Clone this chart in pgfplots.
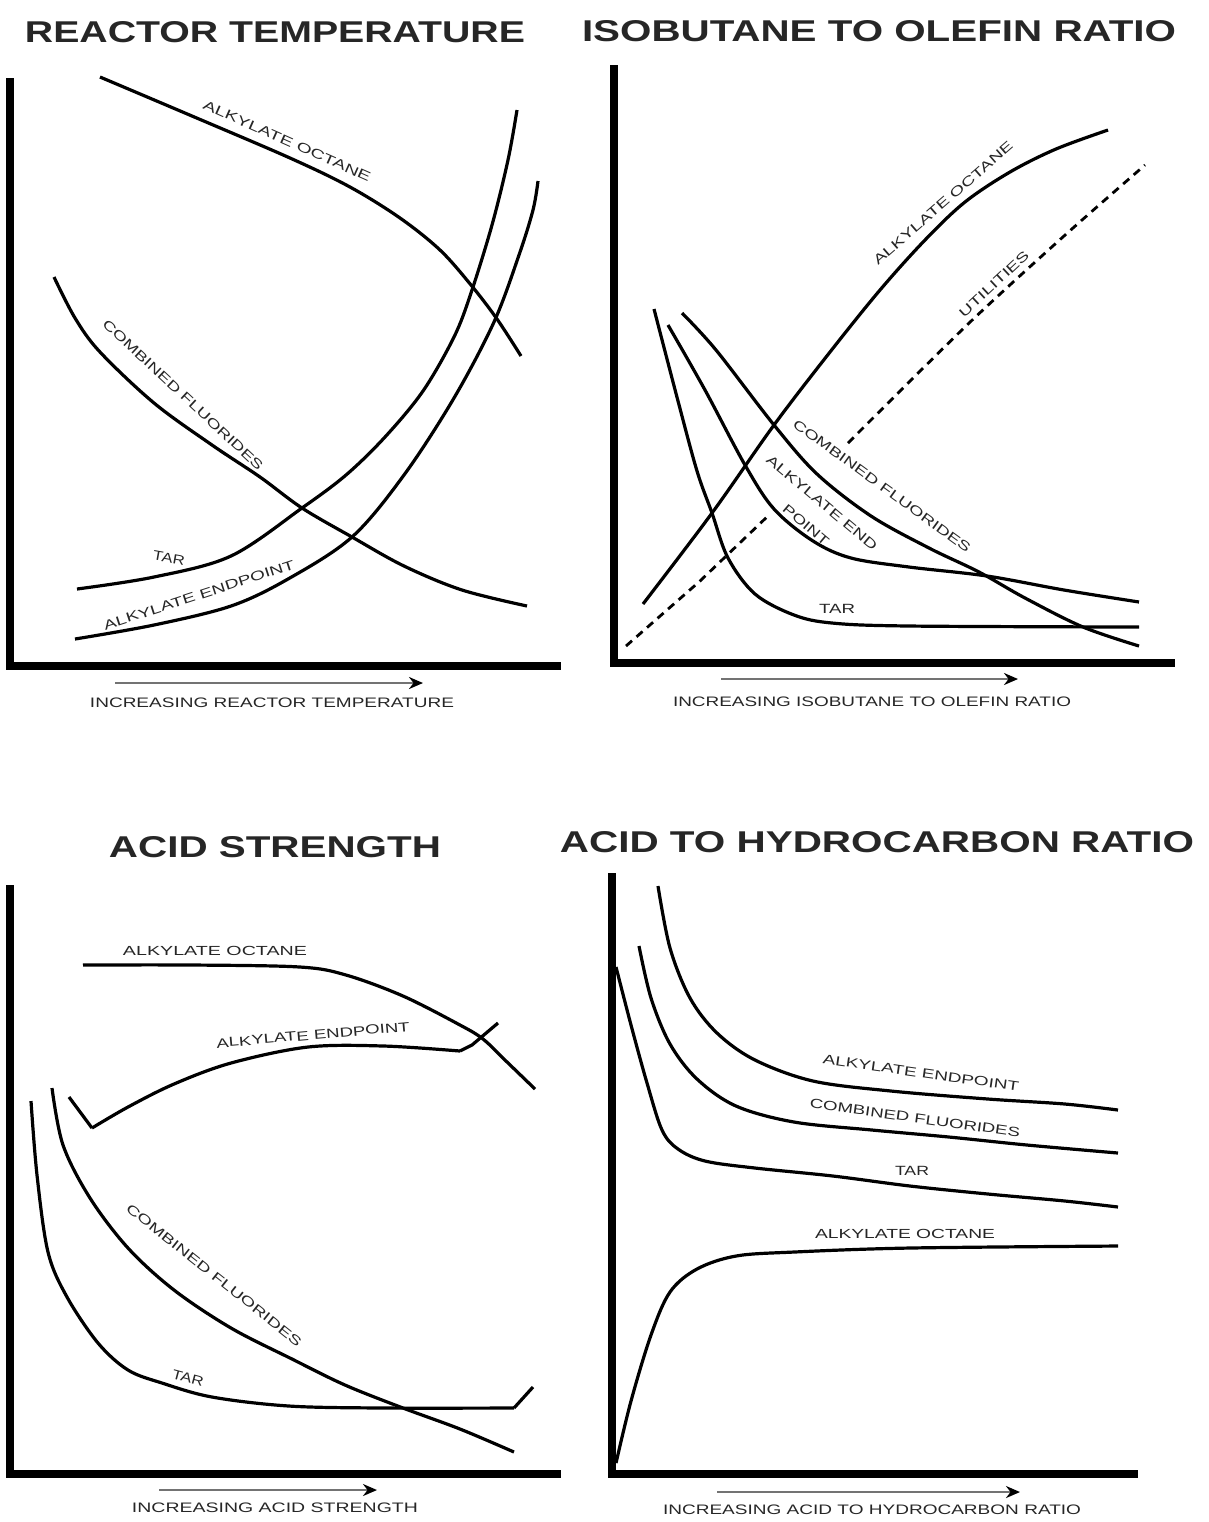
\documentclass[border=0pt]{standalone}
\usepackage{fontspec}
\setmainfont{Liberation Sans}
\usepackage{graphicx}
\usepackage{pgfplots}
\pgfplotsset{compat=1.18}
\usetikzlibrary{arrows.meta}

\newcommand{\lbl}[2]{\resizebox{#1}{4.6pt}{#2}}
\newcommand{\ttl}[2]{\resizebox{#1}{10.5pt}{\bfseries #2}}
\newcommand{\xlb}[2]{\resizebox{#1}{4.8pt}{#2}}

\tikzset{lab/.style={text=black!85, inner sep=0pt}}
\pgfplotsset{
  panel/.style={hide axis, clip=false, scale only axis,
    width=604.5pt, height=761pt,
    xmin=0, xmax=1209, ymin=0, ymax=1522, y dir=reverse,
    anchor=center, at={(302.25pt,-380.5pt)},
    every axis plot/.append style={line width=1.6pt, black, no markers}},
  frame/.style={line width=4.2pt, line join=miter, line cap=butt, sharp plot},
  curve/.style={smooth, tension=0.55},
  arr/.style={line width=1.3pt, black!55, -{Stealth[length=7pt,width=6pt,black]}, sharp plot},
}

\begin{document}
\begin{tikzpicture}
\useasboundingbox (0,0) rectangle (604.5pt,-761pt);

% ---------------- Panel 1: Reactor temperature ----------------
\begin{axis}[panel]
\addplot[frame] coordinates {(10,78) (10,666) (561,666)};
% alkylate octane
\addplot[curve] coordinates {(100,77) (192,116) (290,158) (350,187) (400,218) (440,250) (471,285) (497,319) (521,356)};
% tar
\addplot[curve] coordinates {(77,589) (154,577) (231,556) (302,508) (346,475) (385,437) (423,391) (454,337) (471,293) (492,225) (508,160) (517,110)};
% alkylate endpoint
\addplot[curve] coordinates {(75,639) (154,625) (231,606) (288,579) (352,537) (404,475) (454,398) (494,322) (519,255) (533,210) (538,181)};
% combined fluorides
\addplot[curve] coordinates {(54,277) (75,318) (100,352) (154,403) (212,445) (260,477) (302,508) (352,537) (404,566) (462,590) (527,606)};
\addplot[arr] coordinates {(115,683) (423,683)};
\node[lab] at (axis cs:275,32) {\ttl{250pt}{REACTOR TEMPERATURE}};
\node[lab] at (axis cs:272,703) {\xlb{182pt}{INCREASING REACTOR TEMPERATURE}};
\node[lab,rotate=-24] at (axis cs:287,141) {\lbl{91pt}{ALKYLATE OCTANE}};
\node[lab,rotate=-43] at (axis cs:183,395) {\lbl{107pt}{COMBINED FLUORIDES}};
\node[lab,rotate=-10] at (axis cs:169,558) {\lbl{16pt}{TAR}};
\node[lab,rotate=18] at (axis cs:199,595) {\lbl{100pt}{ALKYLATE ENDPOINT}};
\end{axis}

% ---------------- Panel 2: Isobutane to olefin ratio ----------------
\begin{axis}[panel]
\addplot[frame] coordinates {(614,65) (614,663) (1175,663)};
% alkylate octane
\addplot[curve] coordinates {(643,604) (712,513) (774,425) (830,352) (880,290) (925,240) (965,202) (1010,172) (1056,149) (1108,130)};
% utilities (dashed)
\addplot[dash pattern=on 4pt off 3pt, line width=1.4pt, sharp plot] coordinates {(626,646) (700,581) (770,514)};
\addplot[dash pattern=on 4pt off 3pt, line width=1.4pt, smooth] coordinates {(848,443) (967,325) (1064,236) (1145,165)};
% combined fluorides
\addplot[curve] coordinates {(682,313) (716,350) (774,425) (817,474) (871,516) (929,548) (979,572) (1025,598) (1083,627) (1139,646)};
% alkylate end point
\addplot[curve] coordinates {(668,325) (705,390) (745,465) (774,509) (813,541) (851,558) (909,567) (987,576) (1064,590) (1139,602)};
% tar
\addplot[curve] coordinates {(654,309) (678,401) (697,471) (712,513) (728,558) (755,594) (794,615) (832,623) (909,626) (1139,627)};
\addplot[arr] coordinates {(721,679) (1018,679)};
\node[lab] at (axis cs:879,31) {\ttl{297pt}{ISOBUTANE TO OLEFIN RATIO}};
\node[lab] at (axis cs:872,702) {\xlb{199pt}{INCREASING ISOBUTANE TO OLEFIN RATIO}};
\node[lab,rotate=41] at (axis cs:943,203) {\lbl{90pt}{ALKYLATE OCTANE}};
\node[lab,rotate=43] at (axis cs:994,284) {\lbl{45pt}{UTILITIES}};
\node[lab,rotate=-36] at (axis cs:882,486) {\lbl{108pt}{COMBINED FLUORIDES}};
\node[lab,rotate=-40] at (axis cs:822,503) {\lbl{70pt}{ALKYLATE END}};
\node[lab,rotate=-40] at (axis cs:806,525) {\lbl{28pt}{POINT}};
\node[lab] at (axis cs:837,609) {\lbl{18pt}{TAR}};
\end{axis}

% ---------------- Panel 3: Acid strength ----------------
\begin{axis}[panel]
\addplot[frame] coordinates {(10,885) (10,1474) (561,1474)};
% alkylate octane
\addplot[curve] coordinates {(83,965) (193,965) (300,967) (346,975) (403,996) (460,1025) (483,1039) (506,1061) (535,1089)};
% alkylate endpoint
\addplot[sharp plot] coordinates {(69,1097) (92,1128)};
\addplot[curve] coordinates {(92,1128) (128,1107) (174,1084) (231,1063) (308,1047) (384,1046) (460,1051)};
\addplot[sharp plot] coordinates {(460,1051) (472,1045) (498,1023)};
% combined fluorides
\addplot[curve] coordinates {(52,1088) (63,1145) (90,1198) (128,1248) (174,1290) (231,1328) (292,1359) (345,1385) (403,1408) (460,1429) (514,1452)};
% tar
\addplot[curve] coordinates {(31,1101) (37,1175) (48,1252) (67,1297) (98,1343) (128,1370) (162,1383) (212,1397) (289,1406) (384,1408) (514,1408)};
\addplot[sharp plot] coordinates {(514,1408) (533,1387)};
\addplot[arr] coordinates {(159,1490) (377,1490)};
\node[lab] at (axis cs:275,847) {\ttl{166pt}{ACID STRENGTH}};
\node[lab] at (axis cs:275,1508) {\xlb{143pt}{INCREASING ACID STRENGTH}};
\node[lab] at (axis cs:215,951) {\lbl{92pt}{ALKYLATE OCTANE}};
\node[lab,rotate=5] at (axis cs:313,1035) {\lbl{97pt}{ALKYLATE ENDPOINT}};
\node[lab,rotate=-38.5] at (axis cs:214,1275) {\lbl{110pt}{COMBINED FLUORIDES}};
\node[lab,rotate=-15] at (axis cs:188,1378) {\lbl{16pt}{TAR}};
\end{axis}

% ---------------- Panel 4: Acid to hydrocarbon ratio ----------------
\begin{axis}[panel]
\addplot[frame] coordinates {(612,873) (612,1474) (1138,1474)};
% alkylate endpoint
\addplot[curve] coordinates {(658,886) (670,948) (690,998) (717,1033) (755,1060) (813,1081) (891,1091) (988,1099) (1065,1104) (1118,1110)};
% combined fluorides
\addplot[curve] coordinates {(639,946) (651,998) (670,1044) (697,1079) (736,1106) (794,1122) (872,1130) (949,1137) (1027,1145) (1118,1153)};
% tar
\addplot[curve] coordinates {(616,967) (631,1025) (647,1083) (662,1130) (678,1149) (705,1161) (755,1168) (833,1176) (910,1186) (988,1194) (1065,1201) (1118,1207)};
% alkylate octane
\addplot[curve] coordinates {(616,1463) (631,1401) (651,1335) (670,1292) (697,1269) (736,1256) (794,1252) (910,1248) (1118,1246)};
\addplot[arr] coordinates {(717,1492) (1020,1492)};
\node[lab] at (axis cs:877,842) {\ttl{317pt}{ACID TO HYDROCARBON RATIO}};
\node[lab] at (axis cs:872,1510) {\xlb{209pt}{INCREASING ACID TO HYDROCARBON RATIO}};
\node[lab,rotate=-8] at (axis cs:921,1073) {\lbl{99pt}{ALKYLATE ENDPOINT}};
\node[lab,rotate=-8] at (axis cs:915,1118) {\lbl{106pt}{COMBINED FLUORIDES}};
\node[lab] at (axis cs:912,1171) {\lbl{17pt}{TAR}};
\node[lab] at (axis cs:905,1234) {\lbl{90pt}{ALKYLATE OCTANE}};
\end{axis}
\end{tikzpicture}
\end{document}
